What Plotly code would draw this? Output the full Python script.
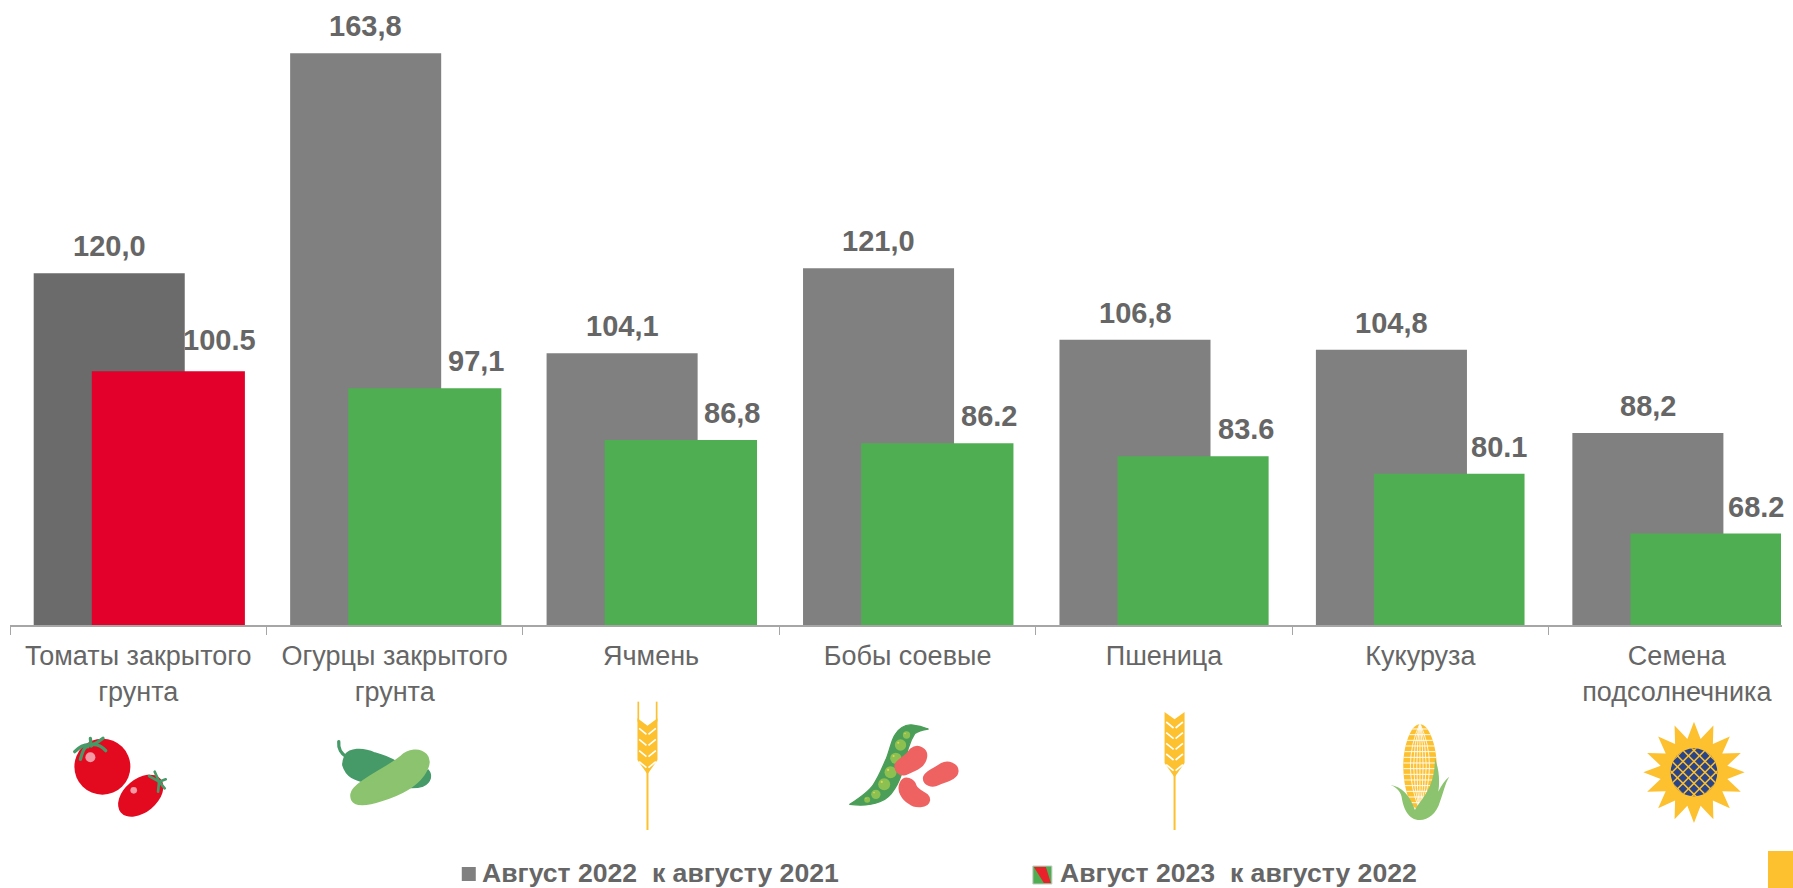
import math
import base64
import plotly.graph_objects as go

# ---- data ----
categories = ["Томаты закрытого<br>грунта", "Огурцы закрытого<br>грунта", "Ячмень", "Бобы соевые",
              "Пшеница", "Кукуруза", "Семена<br>подсолнечника"]
values_2022 = [120.0, 163.8, 104.1, 121.0, 106.8, 104.8, 88.2]
values_2023 = [100.5, 97.1, 86.8, 86.2, 83.6, 80.1, 68.2]
labels_2022 = ["120,0", "163,8", "104,1", "121,0", "106,8", "104,8", "88,2"]
labels_2023 = ["100.5", "97,1", "86,8", "86.2", "83.6", "80.1", "68.2"]
series_names = ["Август 2022\u00a0\u00a0к августу 2021", "Август 2023\u00a0\u00a0к августу 2022"]
colors_2022 = ["#6b6b6b", "#808080", "#808080", "#808080", "#808080", "#808080", "#808080"]
colors_2023 = ["#e3002b", "#4fae52", "#4fae52", "#4fae52", "#4fae52", "#4fae52", "#4fae52"]

W, H = 1793, 888
L, R, T, B = 10.3, 1782, 0, 625
FONT = "Liberation Sans, Arial, sans-serif"
TXT = "#666666"
YEL = "#fdc02f"
LG = "#8bc36e"
DG = "#459a68"
RED = "#e30a20"
PINK = "#f49aa5"
BEAN = "#ef6262"
PW, PH = R - L, B - T


def px(x):
    return (x - L) / PW


def py(y):
    return 1 - (y - T) / PH


# ---- decorative icons, drawn as one transparent overlay in page pixels ----
def crop(x, y, body):
    """Local coordinates at 3 units per page pixel, origin at page pixel (x, y)."""
    return f'<g transform="translate({x},{y}) scale(0.33333)">{body}</g>'


def fat(color, width):
    return f'fill="{color}" stroke="{color}" stroke-width="{width}" stroke-linejoin="round"'


def tomatoes():
    s = f'<circle cx="128" cy="140" r="84" fill="{RED}"/>'
    s += f'<circle cx="92" cy="112" r="15" fill="{PINK}"/>'
    for a, b in [((45, 95), (95, 75)), ((138, 92), (95, 75)), ((92, 55), (95, 78)), ((130, 55), (95, 75)), ((62, 118), (85, 80))]:
        s += f'<path d="M{a[0]},{a[1]} Q{(a[0] + b[0]) / 2},{b[1] - 5} {b[0]},{b[1]}" fill="none" stroke="{DG}" stroke-width="10" stroke-linecap="round"/>'
    s += f'<ellipse cx="243" cy="227" rx="78" ry="50" transform="rotate(-40 243 227)" fill="{RED}"/>'
    s += f'<circle cx="222" cy="211" r="10" fill="{PINK}"/>'
    for a in [(268, 168), (285, 155), (318, 178), (315, 205), (295, 215)]:
        s += f'<line x1="{a[0]}" y1="{a[1]}" x2="298" y2="185" stroke="{DG}" stroke-width="8" stroke-linecap="round"/>'
    return crop(60, 720, s)


def cucumber():
    s = f'<path d="M42,35 C40,55 50,72 65,80" fill="none" stroke="{DG}" stroke-width="10" stroke-linecap="round"/>'
    s += f'<path d="M62,75 C75,58 110,52 150,70 C170,75 195,85 218,98 L130,158 C90,150 65,140 55,105 C55,95 58,85 62,75 Z" {fat(DG, 6)}/>'
    s += f'<path d="M310,120 C322,135 320,155 295,168 C280,173 262,174 245,172 Z" {fat(DG, 4)}/>'
    s += (f'<path d="M230,80 C250,60 285,55 303,75 C317,90 312,110 295,135 C270,170 220,195 170,210 '
          f'C140,220 110,226 92,218 C78,210 76,190 90,175 C125,140 180,120 230,80 Z" {fat(LG, 8)}/>')
    return crop(325, 730, s)


def wheat(x, y, rows, top, height, awns):
    s = f'<rect x="80" y="{height - 10}" width="6" height="{(830 - y) * 3 - height + 10}" fill="{YEL}"/>'
    if awns:
        s += f'<rect x="53" y="20" width="5" height="60" fill="{YEL}"/><rect x="108" y="20" width="5" height="60" fill="{YEL}"/>'
    s += f'<path d="M53,{top} L83,{top + 22} L113,{top} L113,{height - 43} L83,{height} L53,{height - 43} Z" fill="{YEL}"/>'
    step = (height - 43 - top - 25) / max(rows - 1, 1)
    for i in range(rows):
        yy = top + 30 + i * step
        s += f'<path d="M58,{yy} L80,{yy + 18} M108,{yy} L86,{yy + 18}" stroke="#fff" stroke-width="5" fill="none"/>'
    return crop(x, y, s)


def pod_and_beans():
    s = (f'<path d="M30,268 C65,245 90,225 100,210 C120,180 130,150 140,130 C150,105 155,75 165,60 '
         f'C175,42 195,28 215,30 C235,32 255,38 265,42 C245,45 232,50 225,55 C212,75 208,90 205,100 '
         f'C198,125 195,140 190,160 C182,190 175,205 165,220 C150,245 135,255 120,260 C90,272 60,272 30,268 Z" {fat("#4b9e57", 4)}/>')
    for (x, y, r) in [(200, 60, 11), (182, 90, 17), (168, 130, 17), (152, 172, 18), (133, 208, 18), (108, 238, 14), (82, 254, 9)]:
        s += f'<circle cx="{x}" cy="{y}" r="{r}" fill="#8cc152"/>'
        s += f'<circle cx="{x - r * 0.4}" cy="{y - r * 0.4}" r="{r * 0.18}" fill="#e8d24a"/>'
    s += (f'<path d="M170,150 C175,135 200,130 215,105 C235,90 262,105 255,130 C250,155 220,165 195,175 C178,178 168,165 170,150 Z" {fat(BEAN, 12)}/>')
    s += (f'<path d="M255,190 C255,175 285,165 305,150 C325,140 352,150 350,170 C348,190 315,195 295,205 C275,215 255,205 255,190 Z" {fat(BEAN, 12)}/>')
    s += (f'<path d="M185,205 C195,185 220,195 225,215 C235,235 265,235 265,255 C262,275 225,275 210,262 C190,250 175,225 185,205 Z" {fat(BEAN, 12)}/>')
    return crop(840, 715, s)


def corn():
    cob = "M120,28 C150,28 170,100 170,150 C170,220 150,285 120,285 C90,285 70,220 70,150 C70,100 90,28 120,28 Z"
    s = f'<path d="{cob}" fill="{YEL}"/>'
    s += f'<clipPath id="cob"><path d="{cob}"/></clipPath>'
    grid = ""
    for k in [-3, -2, -1, 0, 1, 2, 3]:
        grid += f'<path d="M120,25 Q{120 + k * 19},150 120,288" fill="none" stroke="#fff" stroke-width="2.5"/>'
    for i in range(15):
        grid += f'<line x1="60" y1="{42 + i * 17}" x2="180" y2="{42 + i * 17}" stroke="#fff" stroke-width="2.8"/>'
    s += f'<g clip-path="url(#cob)">{grid}</g>'
    s += (f'<path d="M32,210 C65,215 90,240 105,285 C125,250 165,220 165,130 C178,165 180,200 175,230 '
          f'C185,210 195,195 208,185 C195,205 190,235 180,260 C170,295 145,315 120,315 C85,315 70,280 65,245 C60,225 45,215 32,210 Z" fill="{LG}"/>')
    return crop(1380, 715, s)


def sunflower():
    pts = []
    for i in range(32):
        r = 152 if i % 2 == 0 else 102
        a = -math.pi / 2 + i * math.pi / 16
        pts.append(f"{177 + r * math.cos(a):.1f},{172 + r * math.sin(a):.1f}")
    s = f'<polygon points="{" ".join(pts)}" fill="{YEL}"/>'
    s += '<clipPath id="disc"><ellipse cx="177" cy="172" rx="70" ry="72"/></clipPath>'
    s += '<ellipse cx="177" cy="172" rx="70" ry="72" fill="#2a4488"/>'
    lat = ""
    for k in range(-6, 7):
        lat += f'<line x1="{177 + k * 33 - 80}" y1="92" x2="{177 + k * 33 + 80}" y2="252" stroke="{YEL}" stroke-width="4.5"/>'
        lat += f'<line x1="{177 + k * 33 + 80}" y1="92" x2="{177 + k * 33 - 80}" y2="252" stroke="{YEL}" stroke-width="4.5"/>'
    s += f'<g clip-path="url(#disc)">{lat}</g>'
    return crop(1635, 715, s)


icons = (tomatoes() + cucumber() + wheat(620, 695, 4, 70, 238, True) + wheat(1147, 698, 5, 42, 238, False)
         + pod_and_beans() + corn() + sunflower())
svg = f'<svg xmlns="http://www.w3.org/2000/svg" width="{W}" height="{H}" viewBox="0 0 {W} {H}">{icons}</svg>'
icon_src = "data:image/svg+xml;base64," + base64.b64encode(svg.encode("utf-8")).decode("ascii")

# ---- figure ----
fig = go.Figure()
fig.add_trace(go.Bar(x=categories, y=values_2022, name=series_names[0], marker=dict(color=colors_2022, line_width=0),
                     offset=-0.4076, width=0.589))
fig.add_trace(go.Bar(x=categories, y=values_2023, name=series_names[1], marker=dict(color=colors_2023, line_width=0),
                     offset=-0.181, width=[0.597, 0.597, 0.594, 0.594, 0.589, 0.587, 0.587]))

label_font = dict(family=FONT, size=29, color=TXT, weight="bold")
x_nudge_2023 = [0, 0, -1, 0, 0, -3, -2]
y_nudge_2023 = [4, 0, 0, 0, 0, 0, 0]
annotations = []
for cat, v, t in zip(categories, values_2022, labels_2022):
    annotations.append(dict(x=cat, y=v, text=t, xref="x", yref="y", showarrow=False, xshift=-29, yshift=27,
                            font=label_font))
for cat, v, t, nx, ny in zip(categories, values_2023, labels_2023, x_nudge_2023, y_nudge_2023):
    annotations.append(dict(x=cat, y=v, text=t, xref="x", yref="y", showarrow=False, xshift=81.5 + nx, yshift=27 + ny,
                            font=label_font))
for name, x in zip(series_names, [480, 1058]):
    annotations.append(dict(x=px(x), y=py(872.8), xref="paper", yref="paper", text=name, showarrow=False,
                            xanchor="left", yanchor="middle",
                            font=dict(family=FONT, size=26.6, color=TXT, weight="bold")))


def rect(x0, y0, x1, y1, color, line=None):
    return dict(type="rect", xref="paper", yref="paper", x0=px(x0), x1=px(x1), y0=py(y1), y1=py(y0),
                fillcolor=color, line=dict(width=1 if line else 0, color=line or color))


shapes = [
    rect(462, 867, 476, 881, "#808080"),
    rect(1033, 866, 1052, 884, "#4fae52", "#c8c8c8"),
    dict(type="path", xref="paper", yref="paper", line_width=0, fillcolor="#e8212b",
         path=f"M{px(1034)},{py(867)} L{px(1046)},{py(867)} L{px(1051)},{py(883)} L{px(1044)},{py(883)} Z"),
    rect(1768, 851, 1793, 888, YEL),
]

fig.update_layout(
    width=W, height=H, autosize=False, barmode="overlay", showlegend=False,
    margin=dict(l=L, r=W - R, t=T, b=H - B, pad=0),
    paper_bgcolor="white", plot_bgcolor="white",
    font=dict(family=FONT, color=TXT),
    xaxis=dict(type="category", categoryorder="array", categoryarray=categories, range=[-0.5, -0.5 + PW / 256.4],
               tickson="boundaries", ticks="outside", ticklen=8, tickwidth=1, tickcolor="#a6a6a6",
               showline=True, linecolor="#a6a6a6", linewidth=2, showgrid=False, zeroline=False,
               tickangle=0, tickfont=dict(family=FONT, size=27, color=TXT), ticklabelstandoff=6),
    yaxis=dict(range=[50, 50 + PH / 5.024], visible=False, showgrid=False, zeroline=False),
    annotations=annotations, shapes=shapes,
    images=[dict(source=icon_src, xref="paper", yref="paper", x=px(0), y=py(0), sizex=W / PW, sizey=H / PH,
                 xanchor="left", yanchor="top", sizing="stretch", layer="above")],
)

fig.write_html("out.html", post_script="document.body.style.margin='0';document.documentElement.style.overflow='hidden';",
               config={"displayModeBar": False})
